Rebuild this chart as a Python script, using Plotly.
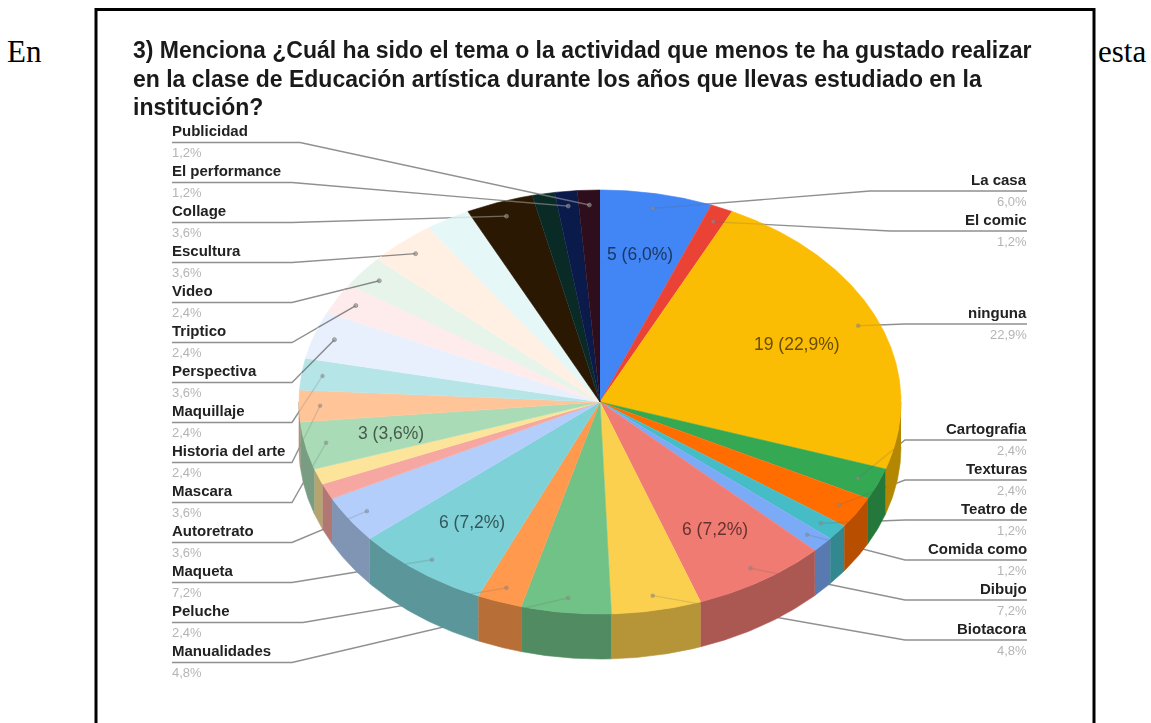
import math
import plotly.graph_objects as go

# ---------- data (clockwise from 12 o'clock) ----------
names = ["La casa", "El comic", "ninguna", "Cartografia", "Texturas", "Teatro de", "Comida como",
         "Dibujo", "Biotacora", "Manualidades", "Peluche", "Maqueta", "Autoretrato", "", "",
         "Mascara", "Historia del arte", "Maquillaje", "Perspectiva", "Triptico", "Video",
         "Escultura", "", "Collage", "", "El performance", "Publicidad"]
values = [5, 1, 19, 2, 2, 1, 1, 6, 4, 4, 2, 6, 3, 1, 1, 3, 2, 2, 3, 2, 2, 3, 2, 3, 1, 1, 1]
colors = ["#4285F4", "#EA4335", "#FBBC04", "#34A853", "#FF6D01", "#46BDC6", "#7BAAF7", "#F07B72",
          "#FCD04F", "#71C287", "#FF994D", "#7ED1D7", "#B3CEFB", "#F7A7A1", "#FDE49B", "#A9DBB6",
          "#FFC599", "#B5E5E7", "#E8F0FE", "#FDECEB", "#E6F4EA", "#FFF0E3", "#E6F7F8",
          "#2A1803", "#0A2A26", "#0A1A4A", "#2E0D1C"]
inside_labels = ["La casa", "ninguna", "Mascara", "Maqueta", "Dibujo"]
title_lines = ["3) Menciona ¿Cuál ha sido el tema o la actividad que menos te ha gustado realizar",
               "en la clase de Educación artística durante los años que llevas estudiado en la",
               "institución?"]
left_names = ["Publicidad", "El performance", "Collage", "Escultura", "Video", "Triptico", "Perspectiva",
              "Maquillaje", "Historia del arte", "Mascara", "Autoretrato", "Maqueta", "Peluche", "Manualidades"]
right_names = ["La casa", "El comic", "ninguna", "Cartografia", "Texturas", "Teatro de", "Comida como",
               "Dibujo", "Biotacora"]

# ---------- layout ----------
W, H = 1151, 723
CX, CY, RX, RY, DEPTH = 600, 402, 301, 212, 45
LEFT_X, RIGHT_X = 172, 1027
left_rows = [130.5 + 40 * i for i in range(len(left_names))]
left_elbows = [300, 292, 292, 292, 292, 292, 292, 292, 292, 292, 292, 292, 303, 292]
right_rows = [179, 219, 312, 428, 468, 508, 548, 588, 628]
right_elbows = [870, 890, 905, 905, 905, 905, 905, 905, 905]

total = sum(values)


def pt(deg, r=1.0, dy=0.0):
    a = math.radians(deg)
    return CX + r * RX * math.sin(a), CY - r * RY * math.cos(a) + dy


def shade(hex_color, f):
    return "rgb(%d,%d,%d)" % tuple(int(int(hex_color[i:i + 2], 16) * f) for i in (1, 3, 5))


def luma(hex_color):
    r, g, b = (int(hex_color[i:i + 2], 16) for i in (1, 3, 5))
    return 0.3 * r + 0.59 * g + 0.11 * b


def arc(a0, a1, dy=0.0):
    n = max(2, int(abs(a1 - a0) * 2))
    return [pt(a0 + (a1 - a0) * k / n, 1.0, dy) for k in range(n + 1)]


spans = []
cum = 0
for v in values:
    spans.append((cum / total * 360, (cum + v) / total * 360))
    cum += v
mids = {n: (s[0] + s[1]) / 2 for n, s in zip(names, spans) if n}
vals = dict(zip(names, values))
cols = dict(zip(names, colors))


def pct(v):
    return f"{100 * v / total:.1f}".replace(".", ",") + "%"


fig = go.Figure()


def poly(points, color, name):
    fig.add_trace(go.Scatter(x=[p[0] for p in points], y=[p[1] for p in points], mode="lines",
                             fill="toself", fillcolor=color, line=dict(color=color, width=0.6),
                             hoverinfo="text", text=name, showlegend=False))


def edge_crossing(px, py, ex, ey):
    """Where the segment pointer -> elbow leaves the top ellipse."""
    t = 0.0
    while t < 1.0:
        x, y = px + (ex - px) * t, py + (ey - py) * t
        if ((x - CX) / RX) ** 2 + ((y - CY) / RY) ** 2 > 1:
            return x, y
        t += 0.005
    return ex, ey


def leader(label, row, x_end, elbow, over):
    px, py = pt(mids[label], 0.93)
    ly = row + 12
    if over:
        a = 0.75 if luma(cols[label]) > 215 else 0.2
        color = "rgba(200,200,200,0.45)" if luma(cols[label]) < 60 else f"rgba(100,100,100,{a})"
        qx, qy = edge_crossing(px, py, elbow, ly)
        fig.add_trace(go.Scatter(x=[qx, px], y=[qy, py], mode="lines+markers",
                                 line=dict(color=color, width=1.4),
                                 marker=dict(size=[0, 4], color="rgba(140,140,140,0.9)"),
                                 hoverinfo="skip", showlegend=False))
    else:
        fig.add_trace(go.Scatter(x=[x_end, elbow, px], y=[ly, ly, py], mode="lines",
                                 line=dict(color="rgba(125,125,125,0.85)", width=1.4),
                                 hoverinfo="skip", showlegend=False))


def all_leaders(over):
    for label, row, e in zip(left_names, left_rows, left_elbows):
        leader(label, row, LEFT_X, e, over)
    for label, row, e in zip(right_names, right_rows, right_elbows):
        leader(label, row, RIGHT_X, e, over)


# leaders run under the pie ...
all_leaders(False)

# side wall (front half only)
for n, c, (a0, a1) in zip(names, colors, spans):
    lo, hi = max(a0, 90), min(a1, 270)
    if hi > lo:
        poly(arc(lo, hi) + arc(hi, lo, DEPTH), shade(c, 0.72), n)

# top face
for n, c, (a0, a1) in zip(names, colors, spans):
    poly([(CX, CY)] + arc(a0, a1), c, n)

# ... and faintly over its top face
all_leaders(True)

ann = []


def text(x, y, s, size, color="#111", anchor="left", family="Liberation Sans", bold=False):
    ann.append(dict(x=x, y=y, xref="x", yref="y", text=f"<b>{s}</b>" if bold else s, showarrow=False,
                    xanchor=anchor, yanchor="middle", borderpad=0, borderwidth=0,
                    font=dict(size=size, color=color, family=family)))


for label, row in zip(left_names, left_rows):
    text(LEFT_X, row, label, 15, "#222", "left", bold=True)
    text(LEFT_X, row + 22, pct(vals[label]), 13, "#b5b5b5", "left")
for label, row in zip(right_names, right_rows):
    text(RIGHT_X, row, label, 15, "#222", "right", bold=True)
    text(RIGHT_X, row + 22, pct(vals[label]), 13, "#b5b5b5", "right")

for label in inside_labels:
    x, y = pt(mids[label], 0.71)
    text(x, y, f"{vals[label]} ({pct(vals[label])})", 17.5, shade(cols[label], 0.42), "center")

for i, line in enumerate(title_lines):
    text(133, 50 + 28.5 * i, line, 23, "#1a1a1a", "left", bold=True)

text(7, 51, "En", 31, "#000", "left", "Liberation Serif")
text(1098, 51, "esta", 31, "#000", "left", "Liberation Serif")

# page frame: open at the bottom
fig.add_shape(type="path", xref="x", yref="y", path=f"M 96 {H} L 96 9.5 L 1094 9.5 L 1094 {H}",
              line=dict(color="#000", width=3))

fig.update_layout(width=W, height=H, margin=dict(l=0, r=0, t=0, b=0), paper_bgcolor="#fff", plot_bgcolor="#fff",
                  xaxis=dict(range=[0, W], visible=False, fixedrange=True),
                  yaxis=dict(range=[H, 0], visible=False, fixedrange=True),
                  annotations=ann, showlegend=False)

# the reference is a soft, low-resolution raster inside the frame; the page text around it is crisp
post = """
document.body.style.margin='0';document.body.style.overflow='hidden';
document.querySelectorAll('.cartesianlayer').forEach(function(e){e.style.filter='blur(0.7px)';});
var an=document.querySelectorAll('.annotation');
an.forEach(function(e,i){if(i<an.length-2){e.style.filter='blur(0.6px)';}});
"""
fig.write_html("out.html", config=dict(displayModeBar=False), post_script=post)
